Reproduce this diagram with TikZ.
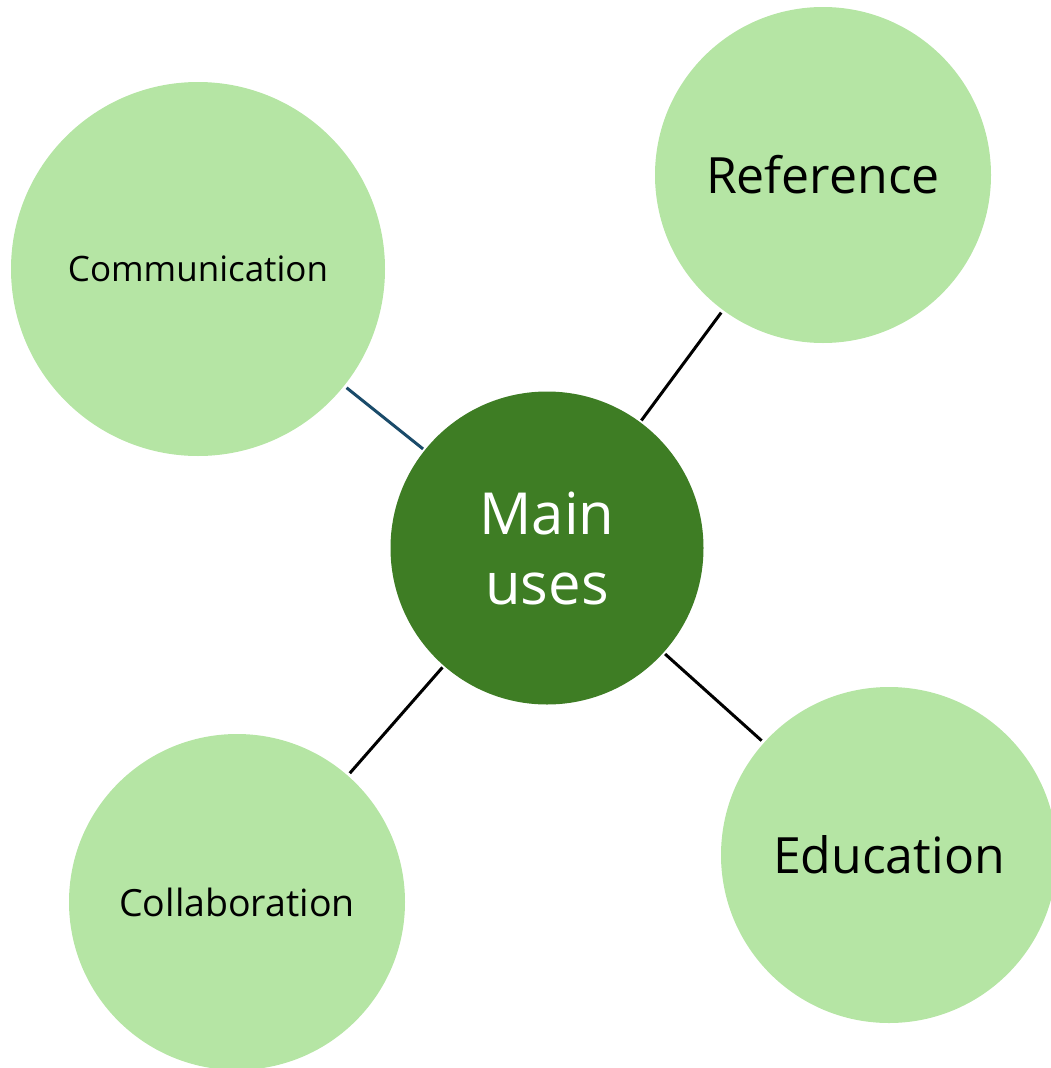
\documentclass[tikz,border=0pt]{standalone}
\usepackage{fontspec}
\setmainfont{Open Sans}
\definecolor{lightg}{HTML}{B5E5A4}
\definecolor{darkg}{HTML}{3E7D24}
\definecolor{linkblue}{HTML}{1A4B6A}
\begin{document}
\begin{tikzpicture}[x=1pt,y=-1pt,
  leaf/.style={circle,fill=lightg,draw=none,inner sep=0pt,align=center,text=black},
  hub/.style={circle,fill=darkg,draw=none,inner sep=0pt,align=center,text=white},
  link/.style={line width=3pt,shorten <=3pt,shorten >=2pt}]
\useasboundingbox (0,0) rectangle (1051,1068);
\clip (0,0) rectangle (1051,1068);
\node[hub,minimum size=313pt,font=\fontsize{58}{70}\selectfont] (main) at (547,548) {Main\\uses};
\node[leaf,minimum size=374pt,font=\fontsize{35}{40}\selectfont] (comm) at (198,269) {Communication};
\node[leaf,minimum size=336pt,font=\fontsize{50}{56}\selectfont] (ref) at (823,175) {Reference};
\node[leaf,minimum size=336pt,font=\fontsize{37.5}{40}\selectfont] (coll) at (237,902) {Collaboration};
\node[leaf,minimum size=336pt,font=\fontsize{50}{56}\selectfont] (edu) at (889,855) {Education};
\draw[link,draw=linkblue] (comm) -- (main);
\draw[link,draw=black] (ref) -- (main);
\draw[link,draw=black] (coll) -- (main);
\draw[link,draw=black] (edu) -- (main);
\end{tikzpicture}
\end{document}
